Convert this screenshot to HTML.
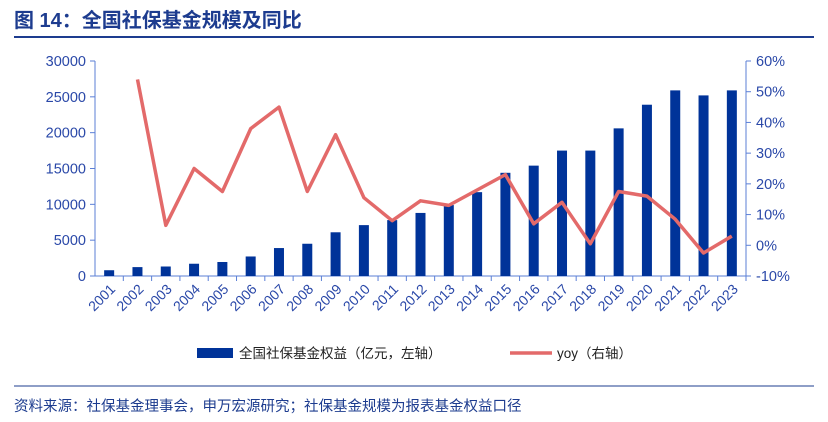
<!DOCTYPE html>
<html><head><meta charset="utf-8"><style>
html,body{margin:0;padding:0;background:#fff;width:828px;height:422px;overflow:hidden;font-family:"Liberation Sans","Noto Sans CJK SC",sans-serif}
</style></head><body>
<svg width="828" height="422" viewBox="0 0 828 422" id="svg" style="font-family:'Liberation Sans','Noto Sans CJK SC',sans-serif">
<text x="14" y="27" font-size="20" font-weight="bold" fill="#1d3c8f">图 14：全国社保基金规模及同比</text>
<line x1="14" y1="37" x2="814" y2="37" stroke="#1d3c8f" stroke-width="2"/>
<g id="plot"></g>
<g>
<rect x="197" y="348" width="36" height="10" fill="#003399"/>
<text x="239" y="358" font-size="13.5" fill="#222">全国社保基金权益（亿元，左轴）</text>
<line x1="510" y1="353" x2="552" y2="353" stroke="#e36a6a" stroke-width="3.5"/>
<text x="557" y="358" font-size="13.5" fill="#222">yoy（右轴）</text>
</g>
<line x1="14" y1="386" x2="814" y2="386" stroke="#1d3c8f" stroke-width="1"/>
<text x="14" y="411" font-size="14.5" fill="#1d3c8f">资料来源：社保基金理事会，申万宏源研究；社保基金规模为报表基金权益口径</text>
</svg>
<script>
const years=["2001","2002","2003","2004","2005","2006","2007","2008","2009","2010","2011","2012","2013","2014","2015","2016","2017","2018","2019","2020","2021","2022","2023"];
const assets=[805,1241,1325,1711,1954,2724,3900,4500,6100,7100,7800,8800,9900,11700,14400,15400,17500,17500,20600,23900,25900,25200,25900];
const yoy=[null,54,6.5,25,17.5,38,45,17.5,36,15.5,8,14.5,13,18,23,7,14,0.5,17.5,16,8.5,-2.5,3];
const leftTicks=[0,5000,10000,15000,20000,25000,30000];
const rightTicks=[-10,0,10,20,30,40,50,60];
const NS="http://www.w3.org/2000/svg";
const g=document.getElementById('plot');
const X0=95,X1=746,YT=61,YB=276;
const bw=(X1-X0)/years.length;
const yL=v=>YB-(v/30000)*(YB-YT);
const yR=v=>YB-((v+10)/70)*(YB-YT);
const xc=i=>X0+bw*(i+0.5);
function mk(t,a){const e=document.createElementNS(NS,t);for(const k in a)e.setAttribute(k,a[k]);g.appendChild(e);return e;}
const ac="#5b7fd6",tc="#2a48a8";
let e;
e=mk('line',{x1:X0,y1:YT,x2:X0,y2:YB,stroke:ac});


e=mk('line',{x1:X1,y1:YT,x2:X1,y2:YB,stroke:ac});


e=mk('line',{x1:X0,y1:YB,x2:X1,y2:YB,stroke:ac});


leftTicks.forEach(v=>{
 mk('line',{x1:X0-5,y1:yL(v),x2:X0,y2:yL(v),stroke:ac});
 e=mk('text',{x:X0-9,y:yL(v)+5,'font-size':14.5,fill:tc,'text-anchor':'end'});
 e.textContent=v;
 
 
});
rightTicks.forEach(v=>{
 mk('line',{x1:X1,y1:yR(v),x2:X1+5,y2:yR(v),stroke:ac});
 e=mk('text',{x:X1+10,y:yR(v)+5,'font-size':14.5,fill:tc});
 e.textContent=v+'%';
 
 
});
years.forEach((y,i)=>{
 mk('line',{x1:X0+bw*(i+1),y1:YB,x2:X0+bw*(i+1),y2:YB+5,stroke:ac});
 e=mk('rect',{x:xc(i)-5,y:yL(assets[i]),width:10,height:YB-yL(assets[i]),fill:'#003399'});
 
 
 const lx=xc(i)+7,ly=YB+14;
 e=mk('text',{x:lx,y:ly,'font-size':14,fill:tc,'text-anchor':'end',transform:`rotate(-45 ${lx} ${ly})`});
 e.textContent=y;
 
 
});
const pts=yoy.map((v,i)=>v===null?null:xc(i).toFixed(1)+','+yR(v).toFixed(1)).filter(p=>p);
e=mk('polyline',{points:pts.join(' '),fill:'none',stroke:'#e36a6a','stroke-width':3.5,'stroke-linejoin':'round'});


</script>
</body></html>
